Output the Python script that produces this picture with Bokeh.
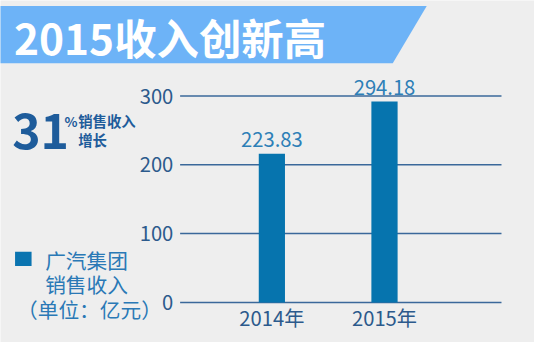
from bokeh.plotting import figure
from bokeh.models import Range1d
from bokeh.embed import file_html
from bokeh.resources import INLINE
from bokeh.core.properties import value

# ---- data ----
years = [2014, 2015]
year_labels = ["2014年", "2015年"]
bar_values = [216, 292]            # bar heights as drawn (亿元)
value_labels = ["223.83", "294.18"]
y_ticks = [0, 100, 200, 300]
y_tick_labels = ["0", "100", "200", "300"]

title_text = "2015收入创新高"
growth_text = "31"

# ---- layout helpers (reference pixel -> data) ----
REF_W, REF_H = 550.0, 358.0
W, H = 534, 342
SX, SY = W / REF_W, H / REF_H
PX_PER_UNIT = 0.72      # ref px per 亿元
PX_PER_YEAR = 116.0     # ref px per year
Y0_PX = 316.0           # ref pixel row of value 0
X0_PX = 279.5           # ref pixel column of 2014


def ry(py):
    return (Y0_PX - py) / PX_PER_UNIT


def rx(px):
    return years[0] + (px - X0_PX) / PX_PER_YEAR


def fs(px):
    return f"{px * (SX + SY) / 2:.1f}px"


BG = "#EEEEEE"
FONT = value("Noto Sans CJK SC")

p = figure(width=W, height=H, output_backend="svg", toolbar_location=None,
           tools="", x_axis_type=None, y_axis_type=None, min_border=0,
           x_range=Range1d(rx(0), rx(REF_W)), y_range=Range1d(ry(REF_H), ry(0)),
           background_fill_color=BG, border_fill_color=BG, outline_line_color=None)

# title banner
p.patch(x=[rx(-2), rx(439), rx(404), rx(-2)], y=[ry(5.7), ry(5.7), ry(65.7), ry(65.7)],
        fill_color="#6DB3F7", line_color=None)
p.text(x=[rx(14)], y=[ry(38)], text=[title_text], text_font=FONT, text_font_style="bold",
       text_font_size=fs(44), text_color="#FFFFFF", text_align="left", text_baseline="middle")

# growth callout
p.text(x=[rx(12)], y=[ry(137)], text=[growth_text], text_font=FONT, text_font_style="bold",
       text_font_size=fs(50), text_color="#1E5C9B", text_align="left", text_baseline="middle")
p.text(x=[rx(66)], y=[ry(126)], text=["%"], text_font=FONT, text_font_style="bold",
       text_font_size=fs(14), text_color="#1E5C9B", text_align="left", text_baseline="middle")
p.text(x=[rx(80), rx(80)], y=[ry(126), ry(145)], text=["销售收入", "增长"], text_font=FONT,
       text_font_style="bold", text_font_size=fs(15), text_color="#1E5C9B",
       text_align="left", text_baseline="middle")

# legend
p.rect(x=[rx(23.5)], y=[ry(270.5)], width=17 / PX_PER_YEAR, height=15 / PX_PER_UNIT,
       fill_color="#0A74B0", line_color=None)
p.text(x=[rx(46), rx(46)], y=[ry(272), ry(297)], text=["广汽集团", "销售收入"], text_font=FONT,
       text_font_size=fs(21.5), text_color="#2A79B6", text_align="left", text_baseline="middle")
p.text(x=[rx(17)], y=[ry(323)], text=["（单位：亿元）"], text_font=FONT,
       text_font_size=fs(21.5), text_color="#2A79B6", text_align="left", text_baseline="middle")

# grid lines
p.segment(x0=[rx(185)] * len(y_ticks), x1=[rx(516)] * len(y_ticks), y0=y_ticks, y1=y_ticks,
          line_color="#3A689A", line_width=1.5)
# y tick labels
p.text(x=[rx(178)] * len(y_ticks), y=y_ticks, text=y_tick_labels, text_font=FONT,
       text_font_size=fs(21), text_color="#2C5A8C", text_align="right", text_baseline="middle")

# bars
p.vbar(x=years, top=bar_values, bottom=0, width=27 / PX_PER_YEAR,
       fill_color="#0674AE", line_color=None)

# value labels
p.text(x=years, y=bar_values, y_offset=-14, text=value_labels, text_font=FONT,
       text_font_size=fs(21), text_color="#2D7FB7", text_align="center", text_baseline="middle")

# x labels
p.text(x=years, y=[ry(332)] * len(years), text=year_labels, text_font=FONT,
       text_font_size=fs(21), text_color="#2C5A8C", text_align="center", text_baseline="middle")

open("out.html", "w").write(file_html(p, INLINE))
